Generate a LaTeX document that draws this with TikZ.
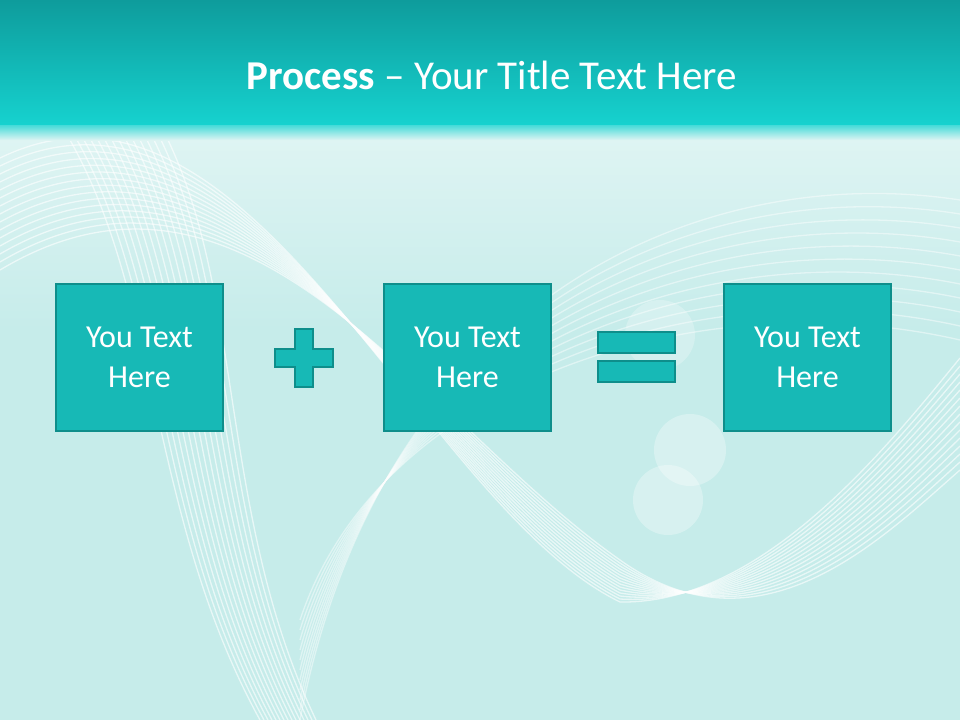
\documentclass[tikz,border=0pt]{standalone}
\usepackage{fontspec}
\setmainfont{Carlito}
\definecolor{bgc}{HTML}{C6ECEA}
\definecolor{topc}{HTML}{0E9C9C}
\definecolor{botc}{HTML}{16D2CF}
\definecolor{boxf}{HTML}{17B9B6}
\definecolor{boxd}{HTML}{0E8E8B}
\begin{document}
\begin{tikzpicture}[x=1pt,y=-1pt,
  box/.style={draw=boxd,line width=2pt,fill=boxf,minimum width=167pt,minimum height=147pt,text=white,font=\fontsize{32}{40}\selectfont,align=center,inner sep=0pt},
  sym/.style={draw=boxd,line width=2pt,fill=boxf},
  wave/.style={white,opacity=0.6,line width=1.3pt}]
\useasboundingbox (0,0) rectangle (960,720);
\fill[bgc] (0,0) rectangle (960,720);
\shade[top color=white!45!bgc,bottom color=bgc] (0,125) rectangle (960,330);
% background waves
\foreach \i in {0,...,14}{
  \draw[wave] (0,{270-\i*8}) .. controls (250,{120-\i*6}) and (420,{420+\i*6}) .. (620,{560+\i*3}) .. controls (760,{660-\i*4}) and (880,{540-\i*6}) .. (960,{470-\i*8});
  \draw[wave] ({70+\i*7},140) .. controls ({160+\i*6},300) and ({150+\i*5},520) .. ({260+\i*4},720);
}
\foreach \i in {0,...,10}{
  \draw[wave,opacity=0.45] (300,{720-\i*10}) .. controls (380,{300+\i*8}) and (700,{160+\i*12}) .. (960,{200+\i*14});
}
\fill[white,opacity=0.3] (668,500) circle (35);
\fill[white,opacity=0.3] (690,450) circle (36);
\fill[white,opacity=0.25] (660,335) circle (35);
% title band
\shade[top color=topc,bottom color=botc] (0,0) rectangle (960,125);
\shade[top color=botc!80!white,bottom color=bgc!60!white] (0,125) rectangle (960,140);
\node[text=white,font=\fontsize{41}{48}\selectfont] (title) at (492,75) {\textbf{Process} – Your Title Text Here};
% boxes
\node[box] (b1) at (139.5,357.5) {You Text\\Here};
\node[box] (b2) at (467.5,357.5) {You Text\\Here};
\node[box] (b3) at (807.5,357.5) {You Text\\Here};
% plus
\draw[sym] (295,329) -- (313,329) -- (313,349) -- (333,349) -- (333,367) -- (313,367) -- (313,387) -- (295,387) -- (295,367) -- (275,367) -- (275,349) -- (295,349) -- cycle;
% equals
\draw[sym] (598,332) rectangle (675,353);
\draw[sym] (598,361) rectangle (675,382);
\end{tikzpicture}
\end{document}
